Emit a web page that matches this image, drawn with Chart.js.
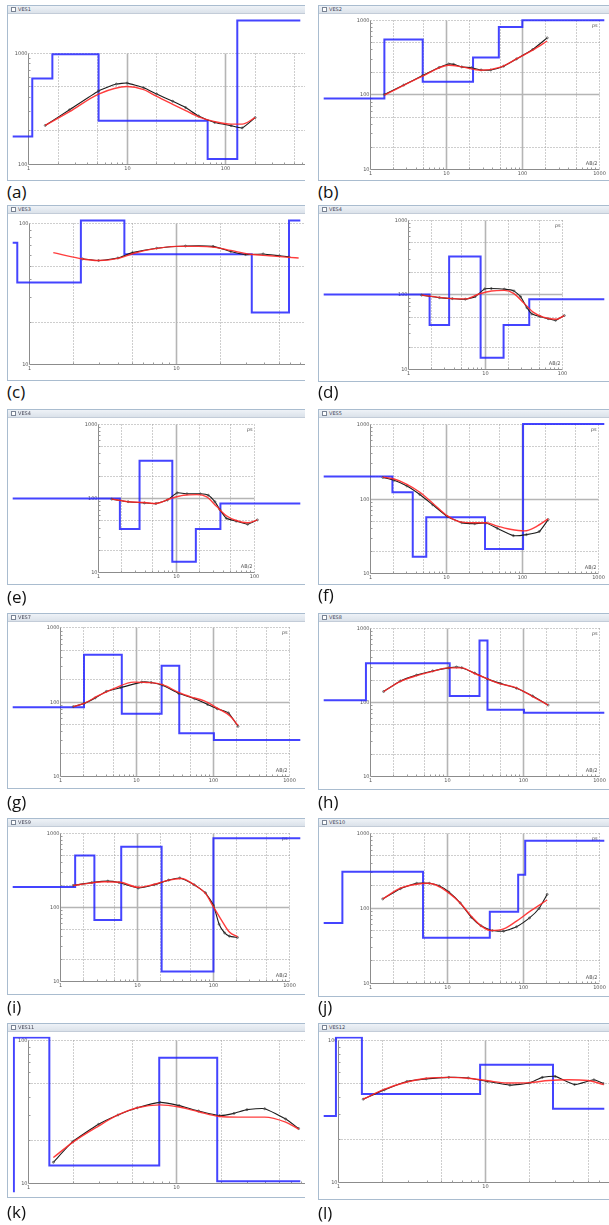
<!DOCTYPE html>
<html><head><meta charset="utf-8">
<script src="https://cdn.jsdelivr.net/npm/chart.js@4.4.0/dist/chart.umd.min.js"></script>
<style>
body{margin:0;background:#fff;width:609px;height:1225px;overflow:hidden;position:relative;font-family:'Open Sans',sans-serif}
.win{position:absolute;background:#fff;border:1px solid #a9bccf;border-right:none;box-sizing:border-box;overflow:hidden}
.tb{position:absolute;left:0;right:0;top:0;height:7px;background:linear-gradient(#eef2f7,#dbe2ea);border-bottom:1px solid #c3ccd8}
.tb i{position:absolute;left:3px;top:1px;width:3px;height:3px;border:1px solid #7a8494;background:#fff}
.tb span{position:absolute;left:10px;top:0px;font:5px 'DejaVu Sans';color:#445}
.win canvas{position:absolute;left:0;top:8px}
.lab{position:absolute;font-size:17px;color:#111;line-height:17px;font-family:'Open Sans',sans-serif}
</style></head><body>
<script>
// ---- data: layer resistivities (blue model), layer boundaries (AB/2), observed (black) and fitted (red) curves ----
const a_rho=[177,587,968,245,111,1950];  const a_bnd=[1.10,1.76,5.19,66.5,133];
const a_obs=[[1.49,222],[2.63,307],[5.19,453],[7.85,522],[10.1,533],[14.9,484],[20.2,425],[29.4,366],[39.8,321],[53.8,270],[78.5,236],[115,221],[149,211],[202,261]];
const a_fit=[[1.49,222],[2.63,295],[5.19,425],[10.1,497],[14.9,466],[20.2,404],[29.4,343],[39.8,301],[53.8,265],[78.5,240],[115,228],[149,228],[202,261]];

const b_rho=[88,543,147,310,800,985];  const b_bnd=[1.55,4.93,22.5,49,99.6];
const b_obs=[[1.55,99.6],[2.78,133],[4.98,180],[8.10,229],[10.8,255],[12.5,252],[16.0,233],[21.4,227],[28.7,212],[38.4,212],[56.6,238],[83.6,298],[136,398],[211,570]];
const b_fit=[[1.55,97.5],[4.98,176],[10.8,245],[16.0,233],[28.7,210],[51.5,231],[83.6,298],[136,391],[211,518]];

const c_rho=[73,38,105,60.4,23.3,105];  const c_bnd=[0.83,2.25,4.45,32.8,58.8];
const c_obs=[[2.31,56.0],[2.97,54.5],[4.02,56.8],[5.05,62.0],[7.38,66.7],[11.6,69.1],[17.9,68.7],[23.6,63.2],[29.7,60.1],[39.2,60.7],[50.5,58.9],[58.8,57.9]];
const c_fit=[[1.46,62.0],[2.19,56.5],[2.97,54.5],[4.02,56.5],[5.18,61.4],[7.02,65.9],[10.0,68.7],[14.2,68.7],[18.4,67.6],[23.6,64.3],[32.0,60.4],[43.4,58.9],[58.8,57.4],[68.4,56.8]];

const d_rho=[99.6,38.8,321,14.2,38.8,86.1];  const d_bnd=[1.93,3.46,8.86,17.6,37.9];
const d_obs=[[1.52,97.5],[2.59,90.3],[3.81,87.7],[5.61,86.1],[7.51,93.0],[10.05,118.6],[12.2,119.7],[18.0,117.3],[24.0,111],[29.2,93.0],[35.4,66.2],[41.0,54.6],[52.2,50.5],[66.6,47.2],[83.2,44.9],[108,52.0]];
const d_fit=[[1.52,97.5],[2.59,91.2],[3.81,87.7],[5.61,86.9],[8.28,100.4],[12.2,111],[18.0,113],[24.0,102.5],[32.2,76.6],[43.0,57.3],[57.5,49.5],[84.8,46.3],[108,52.0]];

const e_rho=[98.6,38.4,317,13.9,38.4,84.3];  const e_bnd=[1.93,3.45,9.08,18.2,37.6];
const e_obs=[[1.52,96.6],[2.46,89.3],[3.99,86.0],[5.60,84.3],[7.85,94.0],[10.5,117.5],[14.0,114],[20.7,114],[26.3,109],[31.9,89.3],[36.9,70.2],[44.8,53.4],[59.9,48.9],[84.0,44.4],[112,50.8]];
const e_fit=[[1.52,96.6],[2.46,89.3],[3.99,86.9],[5.60,84.3],[8.65,98.6],[12.7,109],[18.8,111],[25.1,103.5],[33.5,77.3],[44.8,57.7],[59.9,49.9],[84.0,46.6],[112,50.8]];

const f_rho=[197,121,16.7,56.0,21.1,990];  const f_bnd=[1.98,3.66,5.51,32.6,103];
const f_obs=[[1.48,191],[2.08,175],[3.07,147],[4.54,113],[6.70,82.4],[10.4,57.6],[16.1,47.5],[23.8,46.1],[33.5,47.0],[47.2,39.9],[76.9,31.9],[114,32.9],[168,36.2],[220,52.3]];
const f_fit=[[1.48,193],[2.08,182],[3.07,155],[4.54,121],[6.70,86.5],[10.4,58.7],[16.1,48.4],[23.8,47.5],[33.5,47.5],[47.2,42.7],[69.7,38.8],[108,36.9],[152,41.9],[220,53.3]];

const g_rho=[83.9,428,68.4,304,37.3,30.4];  const g_bnd=[2.07,6.47,21.5,36.6,104];
const g_obs=[[1.50,85.5],[2.07,94.4],[2.90,112],[4.06,137],[6.28,154],[11.8,183],[15.7,181],[22.1,166],[35.9,129],[58.2,109],[85.7,91.6],[115,79.9],[161,70.3],[215,46.3]];
const g_fit=[[1.50,85.5],[2.07,94.4],[3.19,120],[5.18,151],[9.25,183],[13.6,181],[22.1,169],[35.9,133],[52.8,115],[77.8,102],[115,81.5],[169,63.8],[215,47.6]];

const h_rho=[105,333,120,676,78.3,71.0];  const h_bnd=[0.873,11.0,27.1,34.5,104];
const h_obs=[[1.49,138],[2.48,192],[4.04,230],[6.57,262],[10.7,288],[13.5,296],[15.8,290],[23.4,245],[34.5,203],[51.0,178],[83.0,153],[135,120],[216,90.6]];
const h_fit=[[1.49,138],[2.48,189],[4.04,226],[6.57,259],[10.7,288],[15.8,288],[23.4,242],[34.5,205],[51.0,175],[83.0,155],[135,118],[216,90.6]];

const i_rho=[185,494,66.2,650,13.4,847];  const i_bnd=[1.56,2.79,6.28,21.3,102];
const i_obs=[[1.47,195],[2.58,213],[4.19,223],[5.87,213],[10.5,180],[17.0,199],[26.3,230],[36.9,246],[57.0,199],[80.0,155],[102,105],[121,58.3],[143,44.4],[165,40.2],[211,38.6]];
const i_fit=[[1.47,195],[2.34,208],[3.80,219],[6.17,215],[10.5,184],[16.2,199],[26.3,230],[38.7,242],[57.0,199],[80.0,152],[102,100],[136,61.2],[165,45.7],[211,39.4]];

const j_rho=[62.5,303,39.6,88.5,275,785];  const j_bnd=[0.428,4.91,37.0,87.3,108];
const j_obs=[[1.45,131],[2.48,180],[4.04,212],[5.96,212],[7.99,196],[10.7,162],[15.1,116],[21.2,74.4],[28.4,57.3],[40.0,49.5],[56.2,48.6],[83.0,55.6],[123,73.0],[164,97.5],[210,151]];
const j_fit=[[1.45,131],[2.48,183],[4.04,206],[5.68,212],[7.99,192],[10.7,158],[15.1,116],[21.2,76.6],[28.4,57.3],[38.1,49.5],[56.2,52.0],[83.0,66.2],[123,88.5],[210,127]];

const k_rho=[5,105,13.2,75.5,10.2];  const k_bnd=[0.80,1.39,7.70,19.0];
const k_obs=[[1.48,13.9],[2.00,19.4],[2.99,25.7],[4.05,29.9],[5.47,33.6],[7.78,36.7],[10.5,34.8],[14.2,31.9],[19.7,29.6],[24.7,30.7],[30.2,32.6],[39.8,33.1],[55.2,28.0],[67.6,24.0]];
const k_fit=[[1.48,15.0],[2.00,19.2],[2.99,25.0],[4.05,29.9],[5.47,33.6],[7.78,35.2],[10.5,34.0],[14.2,31.5],[19.7,29.2],[26.0,28.9],[39.8,28.9],[55.2,26.6],[67.6,23.8]];

const l_rho=[29.2,105,41.8,67.4,32.9];  const l_bnd=[0.965,1.45,9.27,29.1];
const l_obs=[[1.48,38.4],[2.06,44.7],[2.94,51.3],[3.98,53.5],[5.67,54.8],[7.69,54.3],[10.4,51.3],[14.8,48.3],[20.1,50.0],[24.6,54.8],[30.1,55.7],[40.8,48.8],[55.3,52.7],[64.4,49.5]];
const l_fit=[[1.48,38.4],[2.06,45.1],[2.94,50.8],[3.98,54.0],[5.67,54.8],[7.69,54.0],[10.4,51.9],[14.1,50.0],[20.1,50.3],[27.2,52.1],[36.9,52.7],[50.0,52.1],[64.4,48.8]];

// axis ranges of the labelled plot box
const xTicks3=[1,10,100,1000], xTicks2=[1,10,100];
const yTicks3=[10,100,1000], yTicks1a=[100,1000], yTicks1b=[10,100];
const panelLabels=['(a)','(b)','(c)','(d)','(e)','(f)','(g)','(h)','(i)','(j)','(k)','(l)'];
const titles=['VES1','VES2','VES3','VES4','VES4','VES5','VES7','VES8','VES9','VES10','VES11','VES12'];

// ---- layout (window rect and labelled box rect in page px) ----
const P=[
 {win:[7,5,305,181],   box:[24,50,329,168],        xr:xTicks3, yr:yTicks1a, rho:a_rho,bnd:a_bnd,obs:a_obs,fit:a_fit,ly:183},
 {win:[318,5,609,181], box:[366.7,15,603.3,173.3], xr:xTicks3, yr:yTicks3,  rho:b_rho,bnd:b_bnd,obs:b_obs,fit:b_fit,ly:183},
 {win:[7,205,305,381], box:[25,219,328.3,368.3],   xr:xTicks2, yr:yTicks1b, rho:c_rho,bnd:c_bnd,obs:c_obs,fit:c_fit,ly:383},
 {win:[318,205,609,382],box:[405.7,215,565,373.3], xr:xTicks2, yr:yTicks3,  rho:d_rho,bnd:d_bnd,obs:d_obs,fit:d_fit,ly:383},
 {win:[7,409,305,585], box:[95.7,419,256.7,576.7], xr:xTicks2, yr:yTicks3,  rho:e_rho,bnd:e_bnd,obs:e_obs,fit:e_fit,ly:588},
 {win:[318,409,609,585],box:[366.7,419,602.7,577.7],xr:xTicks3,yr:yTicks3,  rho:f_rho,bnd:f_bnd,obs:f_obs,fit:f_fit,ly:586},
 {win:[7,613,305,789], box:[56.7,622.7,293.3,780], xr:xTicks3, yr:yTicks3,  rho:g_rho,bnd:g_bnd,obs:g_obs,fit:g_fit,ly:793},
 {win:[318,613,609,790],box:[367.3,623.3,603.3,780],xr:xTicks3,yr:yTicks3,  rho:h_rho,bnd:h_bnd,obs:h_obs,fit:h_fit,ly:793},
 {win:[7,818,305,995], box:[57.3,828.3,293.3,985], xr:xTicks3, yr:yTicks3,  rho:i_rho,bnd:i_bnd,obs:i_obs,fit:i_fit,ly:998},
 {win:[318,818,609,997],box:[367.3,828.3,603.3,986.7],xr:xTicks3,yr:yTicks3,rho:j_rho,bnd:j_bnd,obs:j_obs,fit:j_fit,ly:998},
 {win:[7,1023,305,1198],box:[24,1036,329.3,1186.7],xr:xTicks2, yr:yTicks1b, rho:k_rho,bnd:k_bnd,obs:k_obs,fit:k_fit,ly:1203},
 {win:[318,1023,609,1200],box:[334,1036,637.3,1185.7],xr:xTicks2,yr:yTicks1b,rho:l_rho,bnd:l_bnd,obs:l_obs,fit:l_fit,ly:1204}
];

function drawFrame(chart,cfg){
  const ctx=chart.ctx, xs=chart.scales.x, ys=chart.scales.y;
  const px=v=>Math.round(xs.getPixelForValue(v))+0.5;
  const py=v=>Math.round(ys.getPixelForValue(v))+0.5;
  const x0=cfg.xr[0], x1=cfg.xr[cfg.xr.length-1], y0=cfg.yr[0], y1=cfg.yr[cfg.yr.length-1];
  const L=px(x0),R=px(x1),B=py(y0),T=py(y1);
  const ln=(a,b,c,d)=>{ctx.beginPath();ctx.moveTo(a,b);ctx.lineTo(c,d);ctx.stroke();};
  ctx.save();
  ctx.strokeStyle='#9c9c9c';ctx.lineWidth=1;ctx.setLineDash([1,2]);
  cfg.xr.slice(0,-1).forEach(d=>[2,5].forEach(m=>{const X=px(d*m);ln(X,T,X,B);}));
  cfg.yr.slice(0,-1).forEach(d=>[2,5].forEach(m=>{const Y=py(d*m);ln(L,Y,R,Y);}));
  ln(L,T,R,T); ln(R,T,R,B);
  ctx.setLineDash([]);ctx.strokeStyle='#b5b5b5';ctx.lineWidth=1.6;
  cfg.xr.slice(1,-1).forEach(d=>{const X=px(d);ln(X,T,X,B);});
  cfg.yr.slice(1,-1).forEach(d=>{const Y=py(d);ln(L,Y,R,Y);});
  ctx.strokeStyle='#8c8c8c';ctx.lineWidth=1;
  ln(L,T,L,B); ln(L,B,R,B);
  ctx.strokeStyle='#9a9a9a';
  cfg.xr.slice(0,-1).forEach(d=>{for(let m=2;m<10;m++){const X=px(d*m);ln(X,B,X,B-2);}});
  cfg.yr.slice(0,-1).forEach(d=>{for(let m=2;m<10;m++){const Y=py(d*m);ln(L,Y,L+2,Y);}});
  ctx.fillStyle='#555';ctx.font='5px "DejaVu Sans"';
  ctx.textAlign='center';ctx.textBaseline='top';
  cfg.xr.forEach(v=>ctx.fillText(String(v),px(v),B+2));
  ctx.textAlign='right';ctx.textBaseline='middle';
  cfg.yr.forEach(v=>ctx.fillText(String(v),L-1,py(v)));
  ctx.textAlign='right';ctx.textBaseline='top';
  ctx.fillText('ρs',R-2,T+3);
  ctx.textBaseline='bottom';
  ctx.fillText('AB/2',R-2,B-3);
  ctx.restore();
}

P.forEach((p,idx)=>{
  const [wl,wt,wr,wb]=p.win;
  const win=document.createElement('div');win.className='win';
  Object.assign(win.style,{left:wl+'px',top:wt+'px',width:(wr-wl)+'px',height:(wb-wt)+'px'});
  const tb=document.createElement('div');tb.className='tb';
  tb.innerHTML='<i></i><span>'+titles[idx]+'</span>';
  win.appendChild(tb);
  const W=wr-wl-1, H=wb-wt-10;
  const cv=document.createElement('canvas');cv.width=W;cv.height=H;cv.style.width=W+'px';cv.style.height=H+'px';
  win.appendChild(cv);document.body.appendChild(win);
  const lab=document.createElement('div');lab.className='lab';lab.textContent=panelLabels[idx];
  lab.style.left=wl+'px';lab.style.top=p.ly+'px';document.body.appendChild(lab);

  const cx0=wl+1, cy0=wt+9;
  const xa=p.xr[0], xb=p.xr[p.xr.length-1], ya=p.yr[0], yb=p.yr[p.yr.length-1];
  const kx=(p.box[2]-p.box[0])/(Math.log10(xb)-Math.log10(xa));
  const bl=p.box[0]-cx0;
  const xmin=Math.pow(10,Math.log10(xa)-bl/kx), xmax=Math.pow(10,Math.log10(xa)+(W-bl)/kx);
  const ky=(p.box[3]-p.box[1])/(Math.log10(yb)-Math.log10(ya));
  const bb=p.box[3]-cy0;
  const ymin=Math.pow(10,Math.log10(ya)-(H-bb)/ky), ymax=Math.pow(10,Math.log10(ya)+bb/ky);

  const blue=[{x:xmin/10,y:p.rho[0]}];
  p.bnd.forEach((b,i)=>blue.push({x:b,y:p.rho[i+1]}));
  blue.push({x:xmax*10,y:p.rho[p.rho.length-1]});
  const obs=p.obs.map(([x,y])=>({x,y})), fit=p.fit.map(([x,y])=>({x,y}));

  new Chart(cv,{
    type:'line',
    data:{datasets:[
      {data:fit,borderColor:'rgba(255,40,40,0.9)',borderWidth:1.4,pointRadius:0,cubicInterpolationMode:'monotone'},
      {data:obs,borderColor:'#1c1c1c',borderWidth:1.1,pointRadius:1,pointBorderWidth:0.7,pointBorderColor:'#444',pointBackgroundColor:'rgba(0,0,0,0)',tension:0.15},
      {data:blue,borderColor:'rgba(35,35,255,0.85)',borderWidth:2,pointRadius:0,stepped:'before'}
    ]},
    options:{
      responsive:false,animation:false,devicePixelRatio:1,events:[],
      layout:{padding:0},
      plugins:{legend:{display:false},tooltip:{enabled:false}},
      scales:{
        x:{type:'logarithmic',min:xmin,max:xmax,display:false,bounds:'data'},
        y:{type:'logarithmic',min:ymin,max:ymax,display:false,bounds:'data'}
      }
    },
    plugins:[{id:'frame',beforeDatasetsDraw(chart){drawFrame(chart,p);}}]
  });
});
</script>
</body></html>
